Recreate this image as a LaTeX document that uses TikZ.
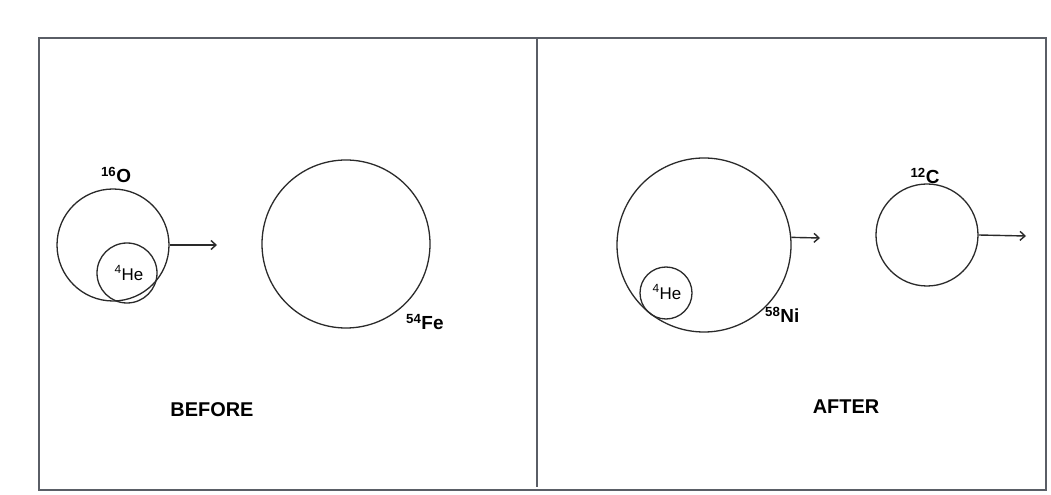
\documentclass[tikz,border=0pt]{standalone}
\usepackage{fontspec}
\setmainfont{Liberation Sans}
\usepackage{tikz}
\usetikzlibrary{
    arrows.meta,
    positioning,
    calc
}

\begin{document}
\begin{tikzpicture}[x=1bp,y=-1bp,
        nucleus/.style={circle,draw=inkcolor,line width=1.3bp,inner sep=0pt},
        isotope/.style={inner sep=0pt,font=\fontsize{19}{20}\selectfont\bfseries},
        heliumtext/.style={inner sep=0pt,font=\fontsize{17}{18}\selectfont},
        motion/.style={draw=inkcolor,line width=1.4bp,-{Straight Barb[length=5bp,width=9bp]}},
        caption/.style={inner sep=0pt,font=\fontsize{20}{22}\selectfont\bfseries}]
            \definecolor{inkcolor}{HTML}{2A2A2A}
            \definecolor{framecolor}{HTML}{5A5E66}
            \useasboundingbox (0,0) rectangle (1051,495);
            \fill[white] (0,0) rectangle (1051,495);
            % frame and divider
            \draw[framecolor,line width=2bp] (39,38) rectangle (1046,490);
            \draw[framecolor,line width=2bp] (537,38) -- (537,487);
            % before
            \node[nucleus,minimum size=112bp] (oxygen) at (113,245) {};
            \node[nucleus,minimum size=60bp] (heliumA) at (127,273) {};
            \node[heliumtext] (heliumAtext) at (129,273) {\textsuperscript{4}He};
            \node[isotope] (oxygentext) at (116,175) {\textsuperscript{16}O};
            \coordinate (oxygenend) at (217,245);
            \draw[motion] (oxygen.east) -- (oxygenend);
            \node[nucleus,minimum size=168bp] (iron) at (346,244) {};
            \node[isotope,anchor=west] (irontext) at (406,322) {\textsuperscript{54}Fe};
            \node[caption] (before) at (212,410) {BEFORE};
            % after
            \node[nucleus,minimum size=174bp] (nickel) at (704,245) {};
            \node[nucleus,minimum size=52bp] (heliumB) at (666,293) {};
            \node[heliumtext] (heliumBtext) at (667,292) {\textsuperscript{4}He};
            \node[isotope,anchor=west] (nickeltext) at (765,315) {\textsuperscript{58}Ni};
            \coordinate (nickelend) at (820,238);
            \draw[motion] (nickel.5) -- (nickelend);
            \node[nucleus,minimum size=102bp] (carbon) at (927,235) {};
            \node[isotope] (carbontext) at (925,176) {\textsuperscript{12}C};
            \coordinate (carbonend) at (1026,236);
            \draw[motion] (carbon.east) -- (carbonend);
            \node[caption] (after) at (846,407) {AFTER};
        \end{tikzpicture}
\end{document}
